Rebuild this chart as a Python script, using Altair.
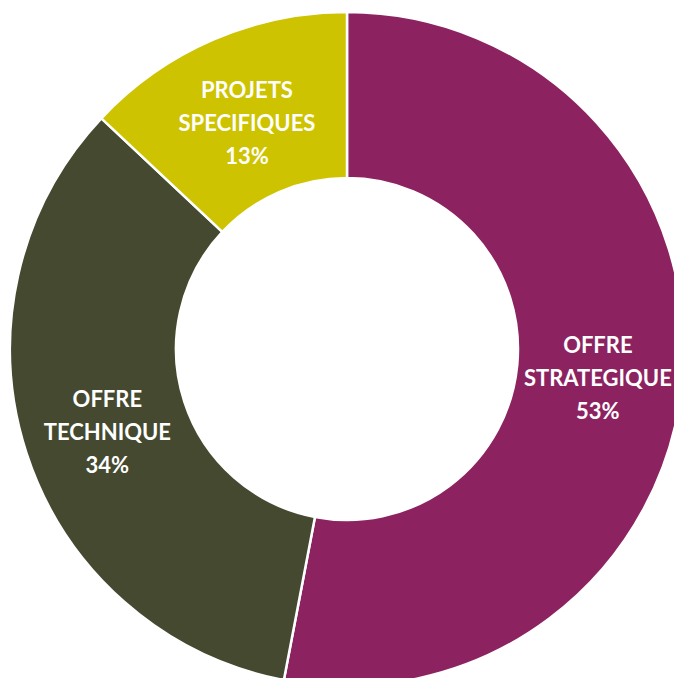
import altair as alt
import pandas as pd

categories = ["OFFRE\nSTRATEGIQUE", "OFFRE\nTECHNIQUE", "PROJETS\nSPECIFIQUES"]
values = [53, 34, 13]
order = [1, 2, 3]
colors = ["#8C2360", "#444930", "#CEC300"]

df = pd.DataFrame({
    "cat": categories,
    "value": values,
    "order": order,
    "label": [f"{c}\n{v}%" for c, v in zip(categories, values)],
})

base = alt.Chart(df).encode(
    theta=alt.Theta("value:Q", stack=True),
    order=alt.Order("order:Q"),
    x=alt.value(339),
    y=alt.value(341),
)

arcs = base.mark_arc(
    innerRadius=171, outerRadius=337, stroke="white", strokeWidth=2.5
).encode(
    color=alt.Color(
        "cat:N",
        scale=alt.Scale(domain=categories, range=colors),
        legend=None,
    )
)

labels = base.mark_text(
    radius=252,
    dy=-27,
    font="Lato",
    fontWeight="bold",
    fontSize=22,
    color="white",
    lineBreak="\n",
    lineHeight=33,
    align="center",
    baseline="middle",
).encode(text="label:N")

chart = (
    alt.layer(arcs, labels)
    .properties(width=666, height=670, padding=0, autosize="none")
    .configure_view(stroke=None)
)

chart.save("out.html", embed_options={"renderer": "svg", "actions": False})
